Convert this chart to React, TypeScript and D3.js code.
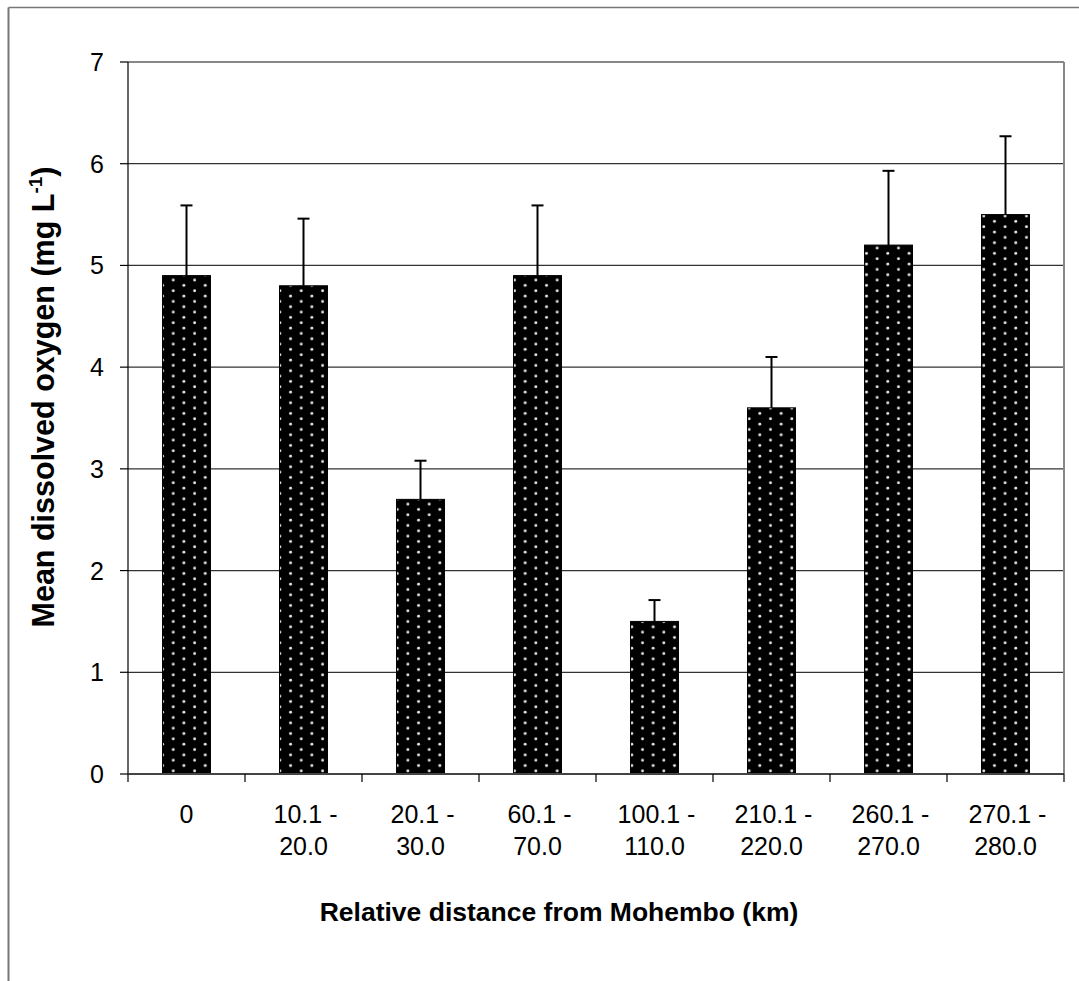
import React from "react";
import * as d3 from "d3";

// Distance classes from Mohembo (km), one line per row in the tick label
const categories: string[][] = [
  ["0"],
  ["10.1 -", "20.0"],
  ["20.1 -", "30.0"],
  ["60.1 -", "70.0"],
  ["100.1 -", "110.0"],
  ["210.1 -", "220.0"],
  ["260.1 -", "270.0"],
  ["270.1 -", "280.0"],
];
// Mean dissolved oxygen (mg L-1)
const means: number[] = [4.9, 4.8, 2.7, 4.9, 1.5, 3.6, 5.2, 5.5];
// Upper error (standard deviation)
const errors: number[] = [0.69, 0.66, 0.38, 0.69, 0.21, 0.5, 0.73, 0.77];
const yTicks: number[] = [0, 1, 2, 3, 4, 5, 6, 7];

const W = 1079;
const H = 981;
const plot = { left: 128, top: 62, right: 1064, bottom: 774 };
const font = "'Liberation Sans', Arial, sans-serif";

export default function App() {
  const x = d3
    .scaleBand<number>()
    .domain(d3.range(categories.length))
    .range([plot.left, plot.right])
    .paddingInner(0)
    .paddingOuter(0);
  const y = d3.scaleLinear().domain([0, 7]).range([plot.bottom, plot.top]);
  const barW = x.bandwidth() * 0.41;
  const capW = 12;
  const boundaries = d3.range(categories.length + 1).map((i) =>
    i < categories.length ? (x(i) as number) : plot.right
  );

  return (
    <svg
      width={W}
      height={H}
      style={{ position: "absolute", left: 0, top: 0, background: "#fff" }}
    >
      <defs>
        <pattern
          id="dots"
          patternUnits="userSpaceOnUse"
          width={21.33}
          height={10.67}
          x={0}
          y={0}
        >
          <rect width={21.33} height={10.67} fill="#000" />
          <circle cx={2.6} cy={2.6} r={1.45} fill="#ececec" />
          <circle cx={13.27} cy={7.93} r={1.45} fill="#ececec" />
        </pattern>
      </defs>

      {/* outer frame */}
      <line x1={8.5} y1={7.5} x2={8.5} y2={H} stroke="#777" strokeWidth={2} />
      <line x1={8.5} y1={7.5} x2={W} y2={7.5} stroke="#777" strokeWidth={1.5} />

      {/* horizontal gridlines */}
      {yTicks.slice(1, -1).map((t) => (
        <line
          key={"g" + t}
          x1={plot.left}
          x2={plot.right}
          y1={y(t)}
          y2={y(t)}
          stroke="#333"
          strokeWidth={1.2}
        />
      ))}

      {/* plot area border (top and right) */}
      <line x1={plot.left} x2={plot.right} y1={plot.top} y2={plot.top} stroke="#888" strokeWidth={2} />
      <line x1={plot.right} x2={plot.right} y1={plot.top} y2={plot.bottom} stroke="#888" strokeWidth={2} />

      {/* bars */}
      {means.map((m, i) => {
        const cx = (x(i) as number) + x.bandwidth() / 2;
        return (
          <rect
            key={"b" + i}
            x={cx - barW / 2}
            y={y(m)}
            width={barW}
            height={y(0) - y(m)}
            fill="url(#dots)"
            stroke="#000"
            strokeWidth={1}
          />
        );
      })}

      {/* error bars */}
      {means.map((m, i) => {
        const cx = (x(i) as number) + x.bandwidth() / 2;
        const top = y(m + errors[i]);
        return (
          <g key={"e" + i} stroke="#000" strokeWidth={2}>
            <line x1={cx} x2={cx} y1={y(m)} y2={top} />
            <line x1={cx - capW / 2} x2={cx + capW / 2} y1={top} y2={top} />
          </g>
        );
      })}

      {/* y axis */}
      <line x1={plot.left} x2={plot.left} y1={plot.top} y2={plot.bottom} stroke="#000" strokeWidth={1.2} />
      {yTicks.map((t) => (
        <g key={"yt" + t}>
          <line x1={plot.left - 8} x2={plot.left} y1={y(t)} y2={y(t)} stroke="#000" strokeWidth={1.2} />
          <text
            x={104}
            y={y(t)}
            dy="0.36em"
            textAnchor="end"
            fontFamily={font}
            fontSize={25}
            fill="#000"
          >
            {t}
          </text>
        </g>
      ))}

      {/* x axis */}
      <line x1={plot.left} x2={plot.right} y1={plot.bottom} y2={plot.bottom} stroke="#444" strokeWidth={2} />
      {boundaries.map((bx, i) => (
        <line key={"xt" + i} x1={bx} x2={bx} y1={plot.bottom} y2={plot.bottom + 8} stroke="#000" strokeWidth={1.2} />
      ))}
      {categories.map((lines, i) => {
        const cx = (x(i) as number) + x.bandwidth() / 2;
        return (
          <text
            key={"xl" + i}
            textAnchor="middle"
            fontFamily={font}
            fontSize={25}
            fill="#000"
          >
            {lines.map((l, j) => (
              <tspan key={j} x={cx + (j === 0 && lines.length > 1 ? 2 : 0)} y={823 + j * 32}>
                {l}
              </tspan>
            ))}
          </text>
        );
      })}

      {/* axis titles */}
      <text
        x={559}
        y={921}
        textAnchor="middle"
        fontFamily={font}
        fontSize={26.5}
        fontWeight="bold"
        fill="#000"
      >
        Relative distance from Mohembo (km)
      </text>
      <text
        transform={`translate(54, 397) rotate(-90)`}
        textAnchor="middle"
        fontFamily={font}
        fontSize={30.5}
        fontWeight="bold"
        fill="#000"
      >
        Mean dissolved oxygen (mg L
        <tspan dy={-12} fontSize={19}>
          -1
        </tspan>
        <tspan dy={12}>)</tspan>
      </text>
    </svg>
  );
}
